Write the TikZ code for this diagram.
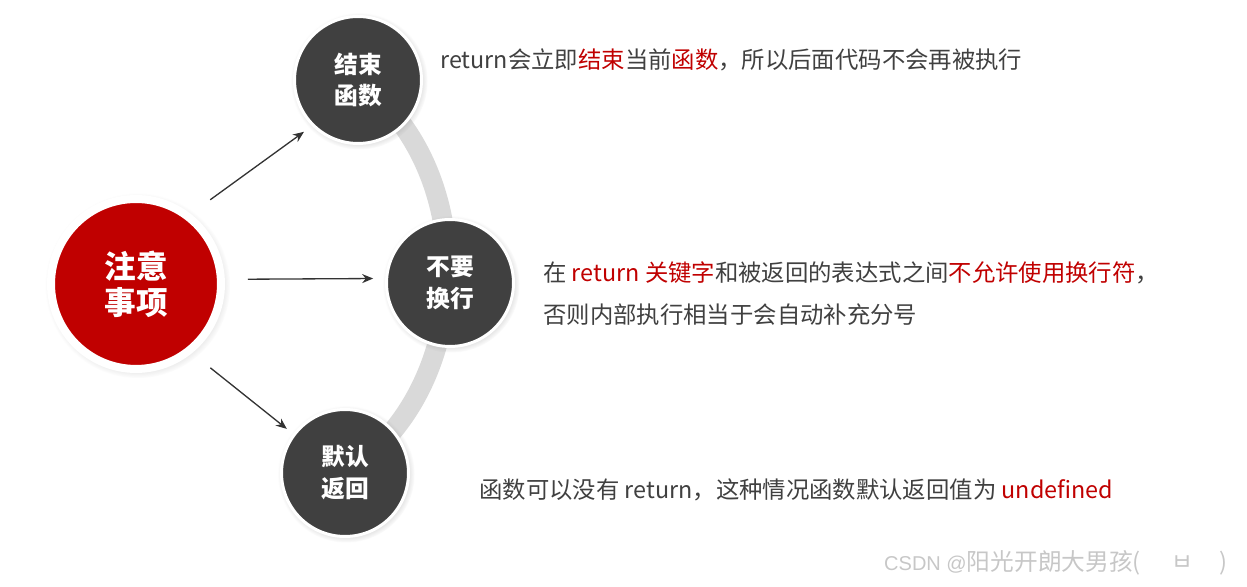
\documentclass[tikz,border=0pt]{standalone}
\usepackage{fontspec}
\setmainfont{Noto Sans CJK SC}
\newfontfamily\wmfont{Liberation Sans}
\usepackage{xcolor}
\usetikzlibrary{arrows.meta,shadows,backgrounds}
\definecolor{keyred}{HTML}{C00000}
\definecolor{dotgray}{HTML}{404040}
\definecolor{bodygray}{HTML}{404040}
\definecolor{bandgray}{HTML}{D9D9D9}

\begin{document}
\begin{tikzpicture}[x=0.02cm,y=0.02cm,>={Stealth[length=2.2mm,width=1.8mm]},
  hub/.style={circle,fill=keyred,draw=white,line width=0.16cm,minimum size=3.4cm,
    text=white,align=center,font=\fontsize{18}{20.5}\selectfont\bfseries,
    circular drop shadow={shadow xshift=0.8pt,shadow yshift=-0.8pt,shadow scale=1.09,opacity=0.3}},
  point/.style={circle,fill=dotgray,draw=white,line width=0.06cm,minimum size=2.54cm,
    text=white,align=center,font=\fontsize{13.5}{18.2}\selectfont\bfseries,
    circular drop shadow={shadow xshift=0.6pt,shadow yshift=-0.6pt,shadow scale=1.08,opacity=0.35}},
  note/.style={anchor=west,inner sep=0pt,text=bodygray,align=left,font=\fontsize{13.3}{23.9}\selectfont},
  link/.style={->,line width=0.75pt,draw=black!80}]
\useasboundingbox (0,0) rectangle (1247,587);

% left hub and the three points
\node[hub] (zhuyi) at (136,303) {注意\\事项};
\node[point] (jieshu) at (358,507) {结束\\函数};
\node[point] (buyao) at (450,304) {不要\\换行};
\node[point] (fanhui) at (345,114) {默认\\返回};

% grey band behind the points
\begin{scope}[on background layer]
\draw[bandgray,line width=0.4cm] (jieshu.center) to[out=-36,in=32] (fanhui.center);
\end{scope}

\draw[link,shorten <=0.48cm,shorten >=0.2cm] (zhuyi.52) -- (jieshu.225);
\draw[link,shorten <=0.46cm,shorten >=0.24cm] (zhuyi.3) -- (buyao.176.5);
\draw[link,shorten <=0.47cm,shorten >=0.16cm] (zhuyi.-51.5) -- (fanhui.143);

% notes
\node[note] (n1) at (440,527) {return会立即\textcolor{keyred}{结束}当前\textcolor{keyred}{函数}，所以后面代码不会再被执行};
\node[note] (n2) at (543,293) {在 \textcolor{keyred}{return 关键字}和被返回的表达式之间\textcolor{keyred}{不允许使用换行符}，\\否则内部执行相当于会自动补充分号};
\node[note] (n3) at (479,97) {函数可以没有 return，这种情况函数默认返回值为 \textcolor{keyred}{undefined}};

\node[anchor=east,inner sep=0pt,text=black!22,font=\fontsize{13.5}{15}\selectfont] (mark) at (1228,24)
  {{\wmfont\fontsize{11.4}{13}\selectfont CSDN @}阳光开朗大男孩(\hspace{1.3em}ㅂ\hspace{1.1em})};
\end{tikzpicture}
\end{document}
